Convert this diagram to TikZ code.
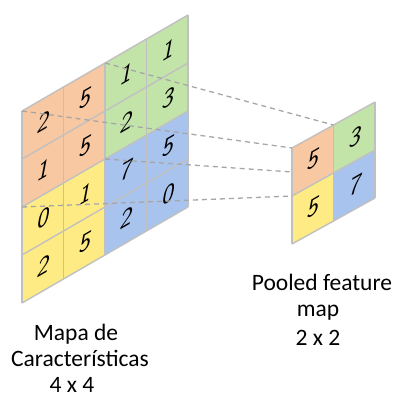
\documentclass[tikz,border=0pt]{standalone}
\usepackage{fontspec}
\setmainfont{Carlito}
\usetikzlibrary{calc}
\definecolor{cellorange}{HTML}{F8C8A2}
\definecolor{cellgreen}{HTML}{C2E4A8}
\definecolor{cellblue}{HTML}{A8C4EE}
\definecolor{cellyellow}{HTML}{FFEB84}
\definecolor{gridline}{HTML}{C0C0C0}
\definecolor{dashline}{HTML}{A6A6A6}
\tikzset{
  gridedge/.style={draw=gridline, line width=1.4pt, line join=round},
  digit/.style={font=\sffamily\slshape\fontsize{25}{25}\selectfont, inner sep=0pt, yslant=0.578},
  poolline/.style={draw=dashline, line width=1.3pt, dash pattern=on 5pt off 4pt},
  caption/.style={font=\fontsize{23.5}{27}\selectfont, anchor=base, inner sep=0pt}
}
\begin{document}
\begin{tikzpicture}[x=1pt, y=-1pt]
\useasboundingbox (0,0) rectangle (403,397);
% corner points of the 4x4 feature map and the 2x2 pooled map
\foreach \i in {0,...,4}{
  \foreach \j in {0,...,4}{
    \coordinate (L-\i-\j) at ({22+41.5*\i},{111-24*\i+48*\j});
  }
}
\foreach \i in {0,...,2}{
  \foreach \j in {0,...,2}{
    \coordinate (S-\i-\j) at ({292+41.5*\i},{148-23*\i+48*\j});
  }
}
\coordinate (S-mid) at ($(S-0-0)!0.5!(S-0-1)$);
% quadrant fills of the feature map
\fill[cellorange] (L-0-0) -- (L-2-0) -- (L-2-2) -- (L-0-2) -- cycle;
\fill[cellgreen]  (L-2-0) -- (L-4-0) -- (L-4-2) -- (L-2-2) -- cycle;
\fill[cellyellow] (L-0-2) -- (L-2-2) -- (L-2-4) -- (L-0-4) -- cycle;
\fill[cellblue]   (L-2-2) -- (L-4-2) -- (L-4-4) -- (L-2-4) -- cycle;
% pooled map fills
\fill[cellorange] (S-0-0) -- (S-1-0) -- (S-1-1) -- (S-0-1) -- cycle;
\fill[cellgreen]  (S-1-0) -- (S-2-0) -- (S-2-1) -- (S-1-1) -- cycle;
\fill[cellyellow] (S-0-1) -- (S-1-1) -- (S-1-2) -- (S-0-2) -- cycle;
\fill[cellblue]   (S-1-1) -- (S-2-1) -- (S-2-2) -- (S-1-2) -- cycle;
% grid lines
\foreach \k in {0,...,4}{
  \draw[gridedge] (L-\k-0) -- (L-\k-4);
  \draw[gridedge] (L-0-\k) -- (L-4-\k);
}
\foreach \k in {0,...,2}{
  \draw[gridedge] (S-\k-0) -- (S-\k-2);
  \draw[gridedge] (S-0-\k) -- (S-2-\k);
}
% cell values
\foreach \row/\vals in {0/{2,5,1,1},1/{1,5,2,3},2/{0,1,7,5},3/{2,5,2,0}}{
  \foreach \v [count=\c from 0] in \vals{
    \pgfmathtruncatemacro{\cc}{\c+1}
    \pgfmathtruncatemacro{\rr}{\row+1}
    \node[digit] (v-\row-\c) at ($(L-\c-\row)!0.5!(L-\cc-\rr)$) {\v};
  }
}
\node[digit] (p-0-0) at ($(S-0-0)!0.5!(S-1-1)$) {5};
\node[digit] (p-0-1) at ($(S-1-0)!0.5!(S-2-1)$) {3};
\node[digit] (p-1-0) at ($(S-0-1)!0.5!(S-1-2)$) {5};
\node[digit] (p-1-1) at ($(S-1-1)!0.5!(S-2-2)$) {7};
% pooling projections
\draw[poolline] (L-0-0) -- (S-0-0);
\draw[poolline] (L-2-0) -- (S-1-0);
\draw[poolline] (L-2-2) -- (S-mid);
\draw[poolline] (L-0-2) -- (S-0-1);
% captions
\node[caption] (cap-l1) at (76,340) {Mapa de};
\node[caption] (cap-l2) at (80,366) {Características};
\node[caption] (cap-l3) at (72,392) {4 x 4};
\node[caption] (cap-r1) at (322,290) {Pooled feature};
\node[caption] (cap-r2) at (318,316) {map};
\node[caption] (cap-r3) at (318,345) {2 x 2};
\end{tikzpicture}
\end{document}
